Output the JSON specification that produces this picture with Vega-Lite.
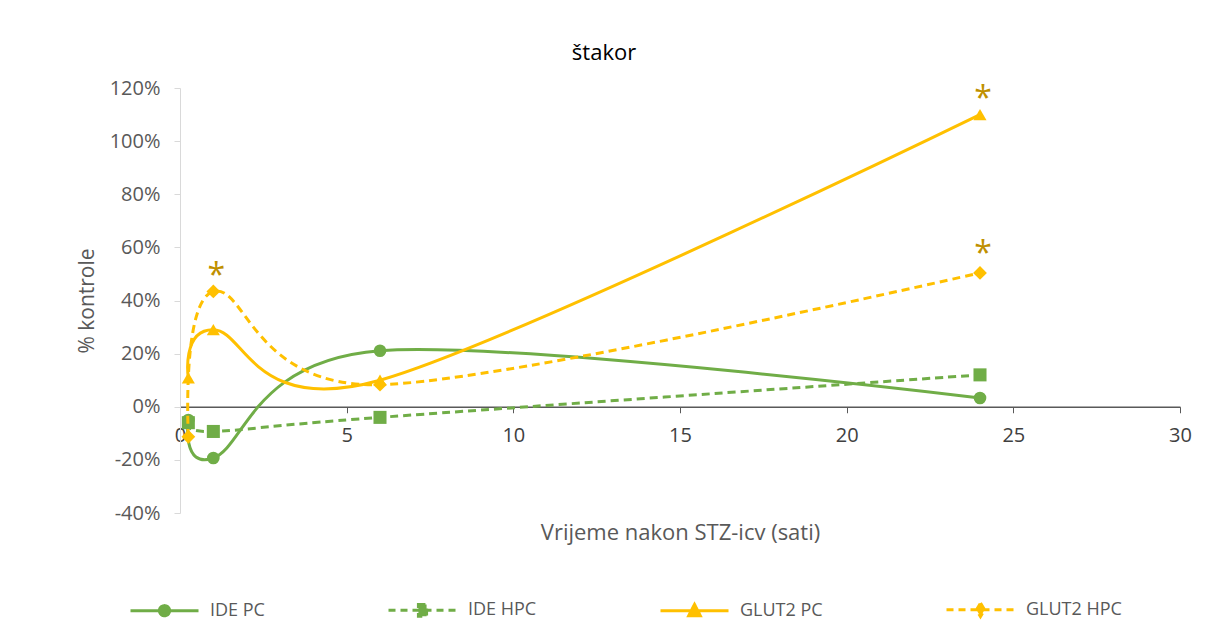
{
  "$schema": "https://vega.github.io/schema/vega-lite/v6.json",
  "autosize": "none",
  "width": 1000,
  "height": 425,
  "padding": {"left": 180, "top": 88, "right": 32, "bottom": 124},
  "background": "white",
  "config": {
    "font": "Open Sans",
    "view": {"stroke": null},
    "legend": {
      "padding": 0,
      "symbolSize": 4624,
      "symbolStrokeWidth": 3,
      "symbolOpacity": 1,
      "labelOffset": 10,
      "labelFontSize": 18,
      "labelColor": "#595959",
      "columnPadding": 117
    }
  },
  "title": {
    "text": "štakor",
    "fontSize": 22,
    "fontWeight": "normal",
    "color": "#000000",
    "anchor": "middle",
    "dx": -76,
    "offset": 13
  },
  "datasets": {
    "series": [
      {"series": "IDE PC", "t": 0.25, "v": -0.05},
      {"series": "IDE PC", "t": 1, "v": -0.193},
      {"series": "IDE PC", "t": 6, "v": 0.211},
      {"series": "IDE PC", "t": 24, "v": 0.033},
      {"series": "IDE HPC", "t": 0.25, "v": -0.06},
      {"series": "IDE HPC", "t": 1, "v": -0.093},
      {"series": "IDE HPC", "t": 6, "v": -0.04},
      {"series": "IDE HPC", "t": 24, "v": 0.12},
      {"series": "GLUT2 PC", "t": 0.25, "v": 0.109},
      {"series": "GLUT2 PC", "t": 1, "v": 0.29},
      {"series": "GLUT2 PC", "t": 6, "v": 0.10},
      {"series": "GLUT2 PC", "t": 24, "v": 1.10},
      {"series": "GLUT2 HPC", "t": 0.25, "v": -0.113},
      {"series": "GLUT2 HPC", "t": 1, "v": 0.434},
      {"series": "GLUT2 HPC", "t": 6, "v": 0.083},
      {"series": "GLUT2 HPC", "t": 24, "v": 0.504}
    ],
    "stars": [
      {"t": 1, "v": 0.522, "label": "*"},
      {"t": 24, "v": 1.188, "label": "*"},
      {"t": 24, "v": 0.604, "label": "*"}
    ]
  },
  "encoding": {
    "x": {
      "field": "t",
      "type": "quantitative",
      "scale": {"domain": [0, 30], "nice": false, "zero": false},
      "axis": {
        "values": [0, 5, 10, 15, 20, 25, 30],
        "offset": -106.25,
        "grid": false,
        "labelFlush": false,
        "domainColor": "#595959",
        "domainWidth": 1.3,
        "tickColor": "#595959",
        "tickSize": 6,
        "labelFontSize": 20,
        "labelColor": "#404040",
        "labelPadding": 13,
        "title": "Vrijeme nakon STZ-icv (sati)",
        "titleFontSize": 22,
        "titleFontWeight": "normal",
        "titleColor": "#595959",
        "titleBaseline": "alphabetic",
        "titleY": 133
      }
    },
    "y": {
      "field": "v",
      "type": "quantitative",
      "scale": {"domain": [-0.4, 1.2], "nice": false, "zero": false},
      "axis": {
        "values": [-0.4, -0.2, 0, 0.2, 0.4, 0.6, 0.8, 1.0, 1.2],
        "labelExpr": "round(datum.value*100) + '%'",
        "grid": false,
        "domainColor": "#D9D9D9",
        "tickColor": "#D9D9D9",
        "tickSize": 6,
        "labelFontSize": 20,
        "labelColor": "#595959",
        "labelPadding": 14,
        "title": "% kontrole",
        "titleFontSize": 21,
        "titleFontWeight": "normal",
        "titleColor": "#595959",
        "titlePadding": 12
      }
    }
  },
  "layer": [
    {
      "data": {"name": "series"},
      "transform": [{"filter": "datum.series == 'IDE PC'"}],
      "mark": {"type": "line", "interpolate": "cardinal", "tension": 0, "strokeWidth": 3, "color": "#70AD47"}
    },
    {
      "data": {"name": "series"},
      "transform": [{"filter": "datum.series == 'IDE PC'"}],
      "mark": {"type": "point", "shape": "circle", "filled": true, "opacity": 1, "size": 160, "color": "#70AD47"}
    },
    {
      "data": {"name": "series"},
      "transform": [{"filter": "datum.series == 'IDE HPC'"}],
      "mark": {"type": "line", "interpolate": "cardinal", "tension": 0, "strokeWidth": 3, "strokeDash": [8, 5], "color": "#70AD47"}
    },
    {
      "data": {"name": "series"},
      "transform": [{"filter": "datum.series == 'IDE HPC'"}],
      "mark": {"type": "point", "shape": "square", "filled": true, "opacity": 1, "size": 170, "color": "#70AD47"}
    },
    {
      "data": {"name": "series"},
      "transform": [{"filter": "datum.series == 'GLUT2 PC'"}],
      "mark": {"type": "line", "interpolate": "cardinal", "tension": 0, "strokeWidth": 3, "color": "#FFC000"}
    },
    {
      "data": {"name": "series"},
      "transform": [{"filter": "datum.series == 'GLUT2 PC'"}],
      "mark": {"type": "point", "shape": "triangle-up", "filled": true, "opacity": 1, "size": 170, "color": "#FFC000"}
    },
    {
      "data": {"name": "series"},
      "transform": [{"filter": "datum.series == 'GLUT2 HPC'"}],
      "mark": {"type": "line", "interpolate": "cardinal", "tension": 0, "strokeWidth": 3, "strokeDash": [8, 5], "color": "#FFC000"}
    },
    {
      "data": {"name": "series"},
      "transform": [{"filter": "datum.series == 'GLUT2 HPC'"}],
      "mark": {"type": "point", "shape": "diamond", "filled": true, "opacity": 1, "size": 190, "color": "#FFC000"}
    },
    {
      "data": {"name": "series"},
      "transform": [{"filter": "datum.t < 0"}],
      "mark": {"type": "point", "filled": true},
      "encoding": {
        "fill": {
          "field": "series",
          "type": "nominal",
          "scale": {
            "domain": ["IDE PC", "IDE HPC", "GLUT2 PC", "GLUT2 HPC"],
            "range": ["#70AD47", "#70AD47", "#FFC000", "#FFC000"]
          },
          "legend": {"orient": "none", "legendX": -51, "legendY": 486, "direction": "horizontal", "columns": 4, "title": null}
        },
        "stroke": {
          "field": "series",
          "type": "nominal",
          "scale": {
            "domain": ["IDE PC", "IDE HPC", "GLUT2 PC", "GLUT2 HPC"],
            "range": ["#70AD47", "#70AD47", "#FFC000", "#FFC000"]
          },
          "legend": {"orient": "none", "legendX": -51, "legendY": 486, "direction": "horizontal", "columns": 4, "title": null}
        },
        "shape": {
          "field": "series",
          "type": "nominal",
          "scale": {
            "domain": ["IDE PC", "IDE HPC", "GLUT2 PC", "GLUT2 HPC"],
            "range": [
              "M-1,0H1M0.15,0A0.15,0.15,0,1,1,-0.15,0A0.15,0.15,0,1,1,0.15,0Z",
              "M-1,0H1M-0.12,-0.17H0.12V0.17H-0.12Z",
              "M-1,0H1M0,-0.19L0.17,0.14H-0.17Z",
              "M-1,0H1M0,-0.2L0.12,0L0,0.2L-0.12,0Z"
            ]
          },
          "legend": {"orient": "none", "legendX": -51, "legendY": 486, "direction": "horizontal", "columns": 4, "title": null}
        },
        "strokeDash": {
          "field": "series",
          "type": "nominal",
          "scale": {
            "domain": ["IDE PC", "IDE HPC", "GLUT2 PC", "GLUT2 HPC"],
            "range": [[1, 0], [7, 5], [1, 0], [7, 5]]
          },
          "legend": {"orient": "none", "legendX": -51, "legendY": 486, "direction": "horizontal", "columns": 4, "title": null}
        }
      }
    },
    {
      "data": {"name": "stars"},
      "mark": {"type": "text", "fontSize": 32, "color": "#BF9000", "baseline": "alphabetic", "dx": 3, "dy": 18},
      "encoding": {
        "text": {"field": "label"}
      }
    }
  ]
}
